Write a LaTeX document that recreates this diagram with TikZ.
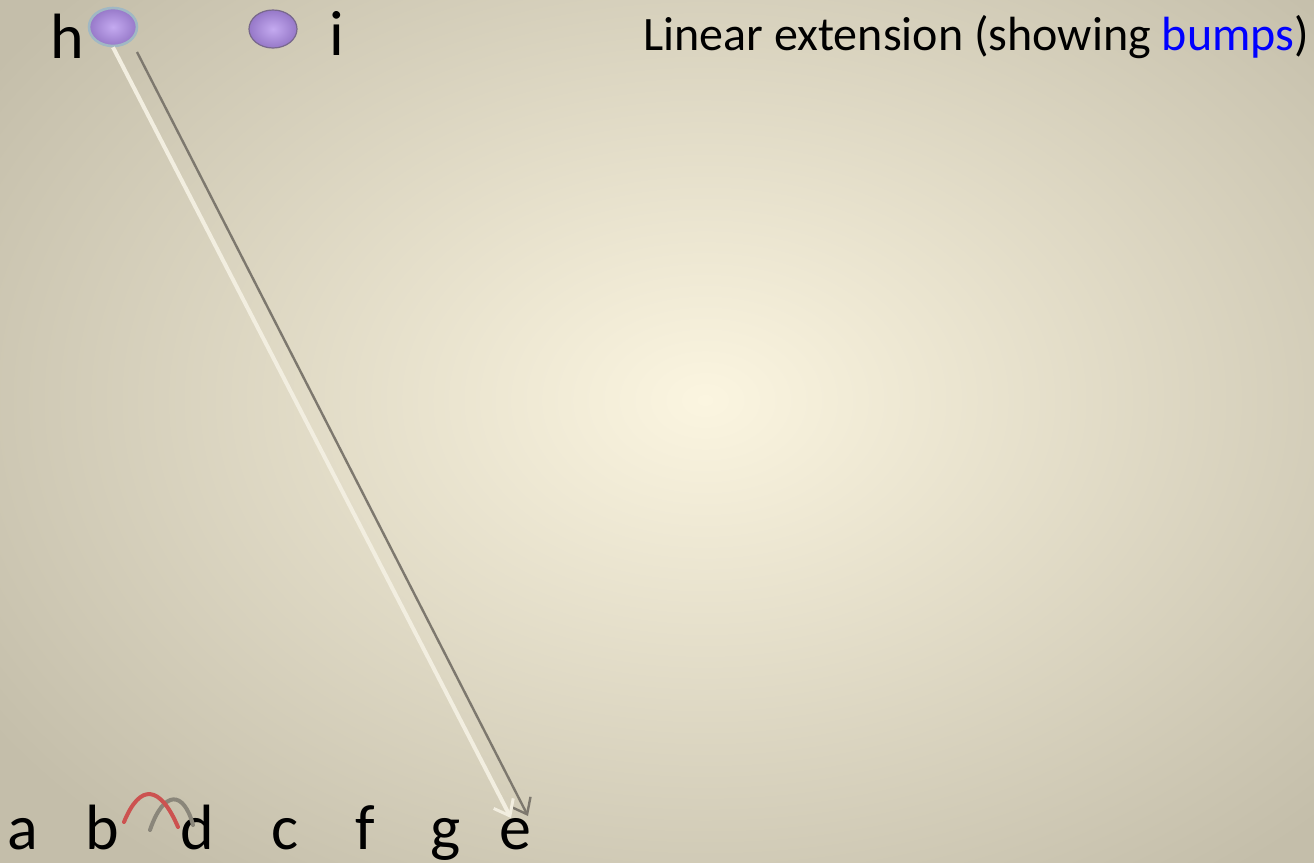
\documentclass[tikz,border=0pt]{standalone}
\usepackage{fontspec}
\setmainfont{Carlito}
\usetikzlibrary{arrows.meta, positioning, shapes.geometric, calc}
\definecolor{bgCenter}{RGB}{251,245,224}
\definecolor{bgEdge}{RGB}{196,190,170}
\definecolor{vxIn}{RGB}{196,170,240}
\definecolor{vxOut}{RGB}{150,120,200}
\definecolor{vxRimHi}{RGB}{160,184,196}
\definecolor{vxRim}{RGB}{120,104,140}
\definecolor{edgeWhite}{RGB}{242,238,224}
\definecolor{edgeShadow}{RGB}{125,120,110}
\definecolor{bumpRed}{RGB}{204,82,80}
\definecolor{bumpGray}{RGB}{138,134,122}

\begin{document}
\begin{tikzpicture}[x=0.5pt, y=-0.5pt,
    vertex/.style={ellipse, minimum width=24pt, minimum height=19pt, inner sep=0pt,
      inner color=vxIn, outer color=vxOut, draw=vxRim, line width=0.6pt},
    hilite/.style={draw=vxRimHi, line width=1.3pt},
    lbl/.style={font=\fontsize{32}{32}\selectfont, anchor=base, inner sep=0pt},
    title/.style={font=\fontsize{24}{24}\selectfont, anchor=base west, inner sep=0pt},
    whiteedge/.style={draw=edgeWhite, line width=2pt, -{Straight Barb[length=7pt, width=11pt, line width=1.5pt]}},
    shadowedge/.style={draw=edgeShadow, line width=1.2pt, -{Straight Barb[length=7pt, width=11pt, line width=1.2pt]}},
    bump/.style={line width=2pt, line cap=round}
  ]
    % background
    \useasboundingbox (0,0) rectangle (1314,863);
    \shade[inner color=bgCenter, outer color=bgEdge] (-150,-200) rectangle (1560,1000);
    % title
    \node[title] (ttl) at (643,50) {Linear extension (showing \textcolor{blue}{bumps})};
    % top vertices
    \node[vertex, hilite] (h) at (113,27) {};
    \node[vertex] (i) at (273,29) {};
    \node[lbl] (hlab) at (67,58) {h};
    \node[lbl] (ilab) at (337,55) {i};
    % linear order
    \node[lbl] (a) at (23,849) {a};
    \node[lbl] (b) at (102,849) {b};
    \node[lbl] (d) at (197,849) {d};
    \node[lbl] (c) at (285,849) {c};
    \node[lbl] (f) at (365,849) {f};
    \node[lbl] (g) at (446,849) {g};
    \node[lbl] (e) at (515,849) {e};
    % edge h -> e
    \coordinate (wEnd) at (511,818);
    \coordinate (sStart) at (137,52);
    \coordinate (sEnd) at (528,816);
    \draw[shadowedge] (sStart) -- (sEnd);
    \draw[whiteedge] (h.south) -- (wEnd);
    % bump b -> d
    \draw[bump, draw=bumpGray] ($(b.base)+(48,-19)$) .. controls ($(b.base)+(62,-60)$) and ($(b.base)+(82,-58)$) .. ($(d.base)+(-4,-24)$);
    \draw[bump, draw=bumpRed] ($(b.base)+(22,-27)$) .. controls ($(b.base)+(38,-66)$) and ($(b.base)+(58,-64)$) .. ($(d.base)+(-19,-22)$);
\end{tikzpicture}
\end{document}
